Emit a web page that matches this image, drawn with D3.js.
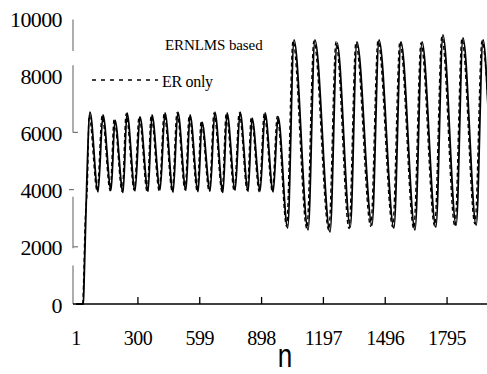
<!DOCTYPE html>
<html><head><meta charset="utf-8">
<script src="https://cdn.jsdelivr.net/npm/d3@7"></script>
<style>
html,body{margin:0;padding:0;background:#fff;overflow:hidden}
.serif{font-family:"Liberation Serif","Times New Roman",Times,"DejaVu Serif",serif}
.sans{font-family:"Liberation Sans",Arial,"DejaVu Sans",sans-serif}
</style>
</head><body>
<svg id="c" width="487" height="374"></svg>
<script>
const xTicks = [1, 300, 599, 898, 1197, 1496, 1795];
const yTicks = [0, 2000, 4000, 6000, 8000, 10000];
const seriesNames = ["ERNLMS based", "ER only"];

// ERNLMS based (solid): turning points
const solidN = [1,36,40,52,68,
  107,131,170,189,228,247,286,310,349,368,407,431,470,493,532,552,591,610,649,672,711,731,770,794,833,852,891,915,954,978,
  1024,1055,1123,1156,1229,1263,1327,1359,1432,1466,1538,1572,1640,1674,1741,1775,1839,1872,1936,1969,
  1993];
const solidV = [0,0,900,4100,6710,
  3920,6610,3980,6430,3900,6680,3960,6540,3940,6610,3990,6680,3910,6710,3970,6610,3930,6360,3960,6710,3900,6680,3980,6710,3940,6500,3960,6680,3920,6540,
  2660,9230,2590,9230,2520,9130,2690,9160,2760,9230,2660,9160,2590,9160,2690,9410,2760,9300,2760,9230,
  6900];

// ER only (dashed): turning points
const dashedN = [1,33,37,44,56,64,
  103,127,166,185,224,243,282,306,345,364,403,427,466,489,528,548,587,606,645,668,707,727,766,790,829,848,887,911,950,974,
  1019,1050,1117,1151,1223,1258,1321,1354,1426,1461,1532,1567,1634,1669,1735,1770,1833,1867,1930,1964,
  1993];
const dashedV = [0,0,700,2700,4300,6600,
  3950,6580,3960,6470,3930,6650,3980,6560,3910,6590,3960,6650,3940,6690,3990,6590,3950,6400,3930,6680,3930,6650,3950,6690,3970,6530,3930,6650,3950,6560,
  2720,9200,2640,9190,2580,9160,2640,9130,2720,9200,2700,9180,2640,9130,2730,9350,2710,9280,2800,9200,
  7100];

const svg = d3.select("#c");
const x = d3.scaleLinear().domain([-14, 1993]).range([73, 488]);
const y = d3.scaleLinear().domain([0, 10000]).range([304, 18]);

svg.append("defs").append("clipPath").attr("id","clip")
  .append("rect").attr("x",73).attr("y",0).attr("width",414).attr("height",306);

// y axis (broken grey line as in the scan)
const yAxisSegs = [[9950, 8850], [8350, 6000], [3750, 1950], [1350, 0]];
svg.append("g").selectAll("line").data(yAxisSegs).join("line")
  .attr("x1", x(-14)).attr("x2", x(-14))
  .attr("y1", d => y(d[0])).attr("y2", d => y(d[1]))
  .attr("stroke", "#777").attr("stroke-width", 1.2);
svg.append("g").selectAll("line").data([6000, 2000]).join("line")
  .attr("x1", x(-14)).attr("x2", x(-14) + 5)
  .attr("y1", d => y(d)).attr("y2", d => y(d))
  .attr("stroke", "#777").attr("stroke-width", 1.2);
svg.append("line").attr("x1", x(-14) - 4).attr("x2", x(-14) + 1)
  .attr("y1", y(4000)).attr("y2", y(4000)).attr("stroke", "#777").attr("stroke-width", 1.2);

// y tick labels
svg.append("g").selectAll("text").data(yTicks).join("text")
  .attr("class", "serif")
  .attr("x", 62).attr("y", d => y(d) + 1)
  .attr("text-anchor", "end").attr("dominant-baseline", "central")
  .attr("font-size", 22).attr("letter-spacing", -0.6)
  .text(d => d);

// x axis
svg.append("line").attr("x1", x(-14)).attr("x2", 487).attr("y1", y(0)).attr("y2", y(0))
  .attr("stroke", "#000").attr("stroke-width", 1.6);
svg.append("g").selectAll("line").data(xTicks.slice(1)).join("line")
  .attr("x1", d => x(d)).attr("x2", d => x(d))
  .attr("y1", y(0)).attr("y2", y(0) - 7)
  .attr("stroke", "#000").attr("stroke-width", 1.3);
svg.append("g").selectAll("text").data(xTicks).join("text")
  .attr("class", "serif")
  .attr("x", d => x(d)).attr("y", 338)
  .attr("text-anchor", "middle").attr("dominant-baseline", "central")
  .attr("font-size", 20).attr("letter-spacing", -0.5)
  .text(d => d);
svg.append("text").attr("class", "sans")
  .attr("transform", "translate(285,367) scale(1,1.25)")
  .attr("text-anchor", "middle")
  .attr("font-size", 26).text("n");

// series
const line = d3.line().x(d => x(d[0])).y(d => y(d[1])).curve(d3.curveMonotoneX);
const g = svg.append("g").attr("clip-path", "url(#clip)");
g.append("path").datum(d3.zip(solidN, solidV)).attr("d", line)
  .attr("fill", "none").attr("stroke", "#000").attr("stroke-width", 1.8);
g.append("path").datum(d3.zip(dashedN, dashedV)).attr("d", line)
  .attr("fill", "none").attr("stroke", "#000").attr("stroke-width", 1.4)
  .attr("stroke-dasharray", "4,3");

// legend
svg.append("text").attr("class", "serif").attr("x", 165).attr("y", 45).attr("dominant-baseline", "central")
  .attr("font-size", 15).attr("letter-spacing", -0.1).text(seriesNames[0]);
svg.append("line").attr("x1", 92).attr("x2", 158).attr("y1", 80).attr("y2", 80)
  .attr("stroke", "#000").attr("stroke-width", 1.6).attr("stroke-dasharray", "4,5");
svg.append("text").attr("class", "serif").attr("x", 162).attr("y", 81).attr("dominant-baseline", "central")
  .attr("font-size", 16).attr("letter-spacing", -0.3).text(seriesNames[1]);
</script>
</body></html>
